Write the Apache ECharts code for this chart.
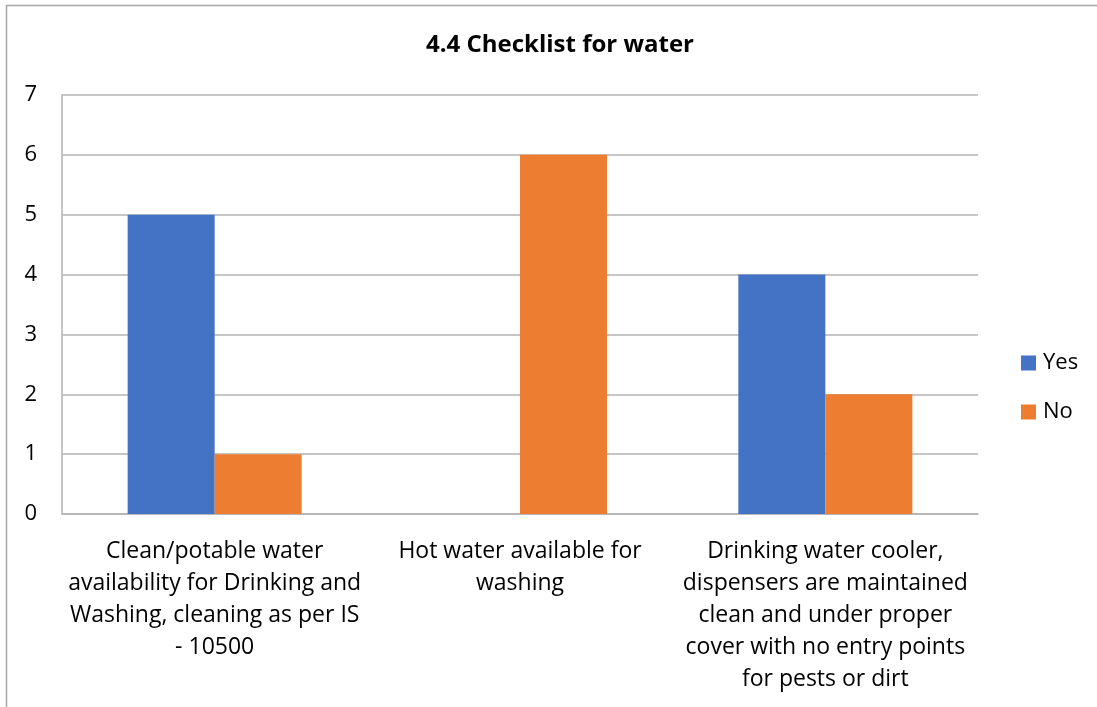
<!DOCTYPE html>
<html>
<head>
<meta charset="utf-8">
<script src="https://cdn.jsdelivr.net/npm/echarts@6/dist/echarts.min.js"></script>
<style>
  html, body { margin: 0; padding: 0; background: #fff; }
  #chart { width: 1097px; height: 707px; }
</style>
</head>
<body>
<div id="chart"></div>
<script>
// Checklist items (wrapped for the axis)
const categories = [
  'Clean/potable water\navailability for Drinking and\nWashing, cleaning as per IS\n- 10500',
  'Hot water available for\nwashing',
  'Drinking water cooler,\ndispensers are maintained\nclean and under proper\ncover with no entry points\nfor pests or dirt'
];
const seriesNames = ['Yes', 'No'];
const yesValues = [5, null, 4];
const noValues = [1, 6, 2];
const yTicks = [0, 1, 2, 3, 4, 5, 6, 7];

const FONT = '"Open Sans", Lato, sans-serif';
const chart = echarts.init(document.getElementById('chart'), null, { renderer: 'canvas' });

chart.setOption({
  animation: false,
  textStyle: { fontFamily: FONT },
  graphic: [{
    type: 'rect',
    shape: { x: 6.5, y: 5.5, width: 1200, height: 800 },
    style: { fill: 'none', stroke: '#a6a6a6', lineWidth: 1.5 },
    silent: true
  }],
  title: {
    text: '4.4 Checklist for water',
    left: 555, top: 28, textAlign: 'center',
    textStyle: { fontFamily: FONT, fontSize: 24, fontWeight: 'bold', color: '#000' }
  },
  legend: {
    orient: 'vertical',
    left: 1016, top: 347,
    itemWidth: 15, itemHeight: 15, itemGap: 27,
    icon: 'rect',
    data: seriesNames,
    textStyle: { fontFamily: FONT, fontSize: 22, color: '#000', padding: [0, 0, 0, 2] }
  },
  grid: { left: 62, right: 119, top: 95, bottom: 193, containLabel: false },
  xAxis: {
    type: 'category',
    data: categories,
    axisTick: { show: false },
    axisLine: { lineStyle: { color: '#b3b3b3', width: 1.5 } },
    axisLabel: {
      interval: 0, margin: 21, color: '#000',
      fontFamily: FONT, fontSize: 23, lineHeight: 32, align: 'center'
    }
  },
  yAxis: {
    type: 'value',
    min: yTicks[0], max: yTicks[yTicks.length - 1], interval: 1,
    axisLine: { show: true, lineStyle: { color: '#b3b3b3', width: 1.5 } },
    axisTick: { show: false },
    splitLine: { lineStyle: { color: '#b3b3b3', width: 1.5 } },
    axisLabel: { margin: 25, color: '#000', fontFamily: FONT, fontSize: 22 }
  },
  series: [
    {
      name: seriesNames[0], type: 'bar', data: yesValues,
      barWidth: '28.5%', barGap: '0%',
      itemStyle: { color: '#4472C4' }
    },
    {
      name: seriesNames[1], type: 'bar', data: noValues,
      barWidth: '28.5%', barGap: '0%',
      itemStyle: { color: '#ED7D31' }
    }
  ]
});
</script>
</body>
</html>
